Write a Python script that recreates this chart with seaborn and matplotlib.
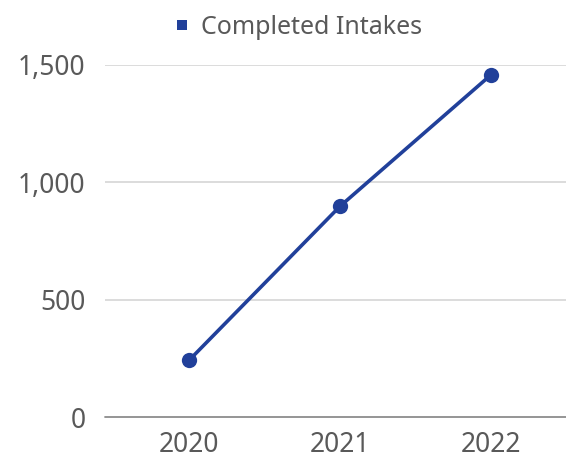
import matplotlib
matplotlib.use("Agg")
import matplotlib.pyplot as plt
import seaborn as sns
import pandas as pd
from matplotlib.lines import Line2D

years = ["2020", "2021", "2022"]
completed_intakes = [243, 898, 1457]
series_name = "Completed Intakes"
y_ticks = [0, 500, 1000, 1500]
y_tick_labels = ["0", "500", "1,000", "1,500"]

sns.set_theme(style="white")
plt.rcParams["font.family"] = ["Noto Sans", "DejaVu Sans"]

df = pd.DataFrame({"year": years, "value": completed_intakes})

line_color = "#21409A"
text_color = "#595959"

fig = plt.figure(figsize=(5.66, 4.63), dpi=100)
ax = fig.add_axes([105 / 566, 1 - 417 / 463, 1 - 105 / 566, (417 - 65) / 463])

sns.lineplot(data=df, x="year", y="value", ax=ax, color=line_color,
             linewidth=2.6, marker="o", markersize=11, markeredgewidth=0,
             sort=False, clip_on=False)

ax.set_ylim(0, 1500)
ax.set_xlim(-0.56, 2.5)
ax.set_yticks(y_ticks)
ax.set_yticklabels(y_tick_labels)
ax.set_xlabel("")
ax.set_ylabel("")

for v in y_ticks[1:]:
    ax.axhline(v, color="#d9d9d9", linewidth=1.3, zorder=0)
ax.axhline(0, color="#8c8c8c", linewidth=1.3, zorder=0, clip_on=False)

for s in ax.spines.values():
    s.set_visible(False)

ax.tick_params(axis="both", length=0, labelsize=19, colors=text_color)
ax.tick_params(axis="y", pad=14)
ax.tick_params(axis="x", pad=10)

handle = Line2D([], [], linestyle="none", marker="s", markersize=7,
                color=line_color, markeredgewidth=0)
fig.legend([handle], [series_name], loc="center", bbox_to_anchor=(298 / 566, 1 - 27 / 463),
           frameon=False, fontsize=18, labelcolor=text_color,
           handlelength=0.6, handletextpad=0.45, borderpad=0)

fig.savefig("out.png", dpi=100)
